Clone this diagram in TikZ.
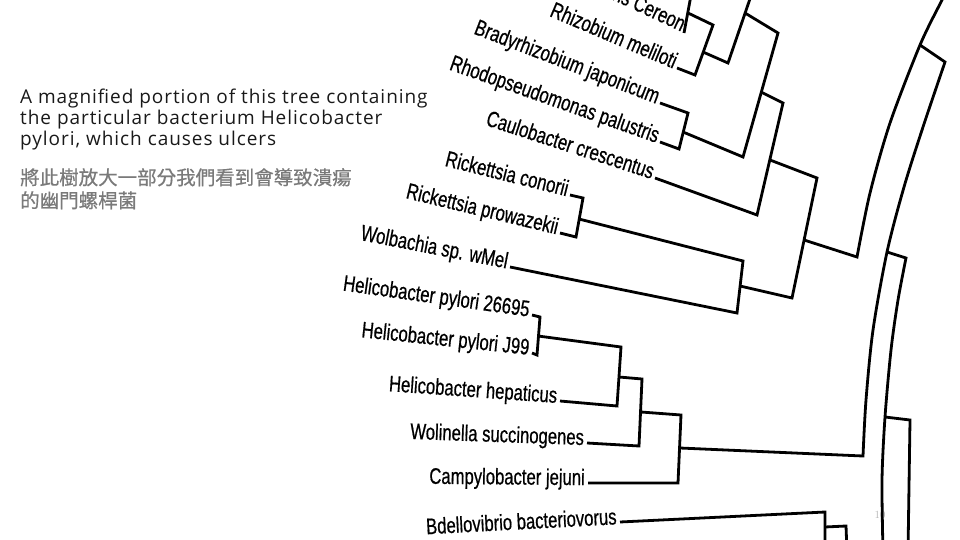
\documentclass[tikz,border=0pt]{standalone}
\usepackage{fontspec}
\newfontfamily\taxonfont[FakeStretch=0.74, FakeBold=0.6]{Liberation Sans}
\newfontfamily\notefont[LetterSpace=5.0]{Open Sans}
\newfontfamily\cjkfont[FakeBold=0.6]{Noto Sans CJK TC}
\definecolor{notegray}{HTML}{7A7A7A}

\begin{document}
\begin{tikzpicture}[x=1pt, y=-1pt,
        taxon/.style={font=\taxonfont\fontsize{22.5}{22.5}\selectfont, anchor=mid east, inner xsep=3pt, inner ysep=0pt},
        branch/.style={line width=2.8pt, line join=miter}]
    \useasboundingbox (0,0) rectangle (960,540);
    \clip (0,0) rectangle (960,540);

    % caption
    \node[anchor=north west, inner sep=0pt, align=left, font=\notefont\fontsize{19}{21}\selectfont, text=black!90] (Caption) at (20,89)
        {A magnified portion of this tree containing\\the particular bacterium Helicobacter\\pylori, which causes ulcers};
    \node[anchor=north west, inner sep=0pt, align=left, font=\cjkfont\fontsize{19.5}{23}\selectfont, text=notegray] (CaptionZh) at (20,168)
        {將此樹放大一部分我們看到會導致潰瘍\\的幽門螺桿菌};

    % taxa
    \node[taxon, anchor=base east, rotate=-25] (Cereon) at (684,33) {Agrobacterium tumefaciens Cereon};
    \node[taxon, rotate=-23] (Meliloti) at (677,68) {Rhizobium meliloti};
    \node[taxon, rotate=-21] (Japonicum) at (660,103) {Bradyrhizobium japonicum};
    \node[taxon, rotate=-19.5] (Palustris) at (660,142) {Rhodopseudomonas palustris};
    \node[taxon, rotate=-18] (Crescentus) at (655,178) {Caulobacter crescentus};
    \node[taxon, rotate=-14] (Conorii) at (570,195) {Rickettsia conorii};
    \node[taxon, rotate=-13.5] (Prowazekii) at (560,233) {Rickettsia prowazekii};
    \node[taxon, rotate=-11] (Wolbachia) at (510,267) {Wolbachia sp. wMel};
    \node[taxon, rotate=-8] (PyloriA) at (532,315) {Helicobacter pylori 26695};
    \node[taxon, rotate=-6] (PyloriB) at (532,353) {Helicobacter pylori J99};
    \node[taxon, rotate=-4] (Hepaticus) at (560,401) {Helicobacter hepaticus};
    \node[taxon, rotate=-2] (Wolinella) at (587,443) {Wolinella succinogenes};
    \node[taxon, rotate=-0.5] (Campylobacter) at (588,483) {Campylobacter jejuni};
    \node[taxon, rotate=3] (Bdellovibrio) at (620,522) {Bdellovibrio bacteriovorus};

    \node[font=\fontsize{11}{11}\selectfont, text=gray!60] (PageNo) at (880,515) {10};

    % alpha part
    \coordinate (CereonTop) at (692,-10);
    \coordinate (CereonNode) at (688,13);
    \coordinate (CereonCorner) at (713,25);
    \coordinate (MelilotiCorner) at (695,75);
    \coordinate (RhizoNode) at (703,52);
    \coordinate (RhizoCorner) at (728,63);
    \coordinate (UpperTop) at (753,-10);
    \coordinate (UpperNode) at (745,13);
    \coordinate (UpperCorner) at (778,33);
    \coordinate (JaponicumCorner) at (688,113);
    \coordinate (PalustrisCorner) at (679,149);
    \coordinate (BradyNode) at (683,132);
    \coordinate (BradyCorner) at (743,157);
    \coordinate (MidNode) at (761,92);
    \coordinate (MidCorner) at (783,103);
    \coordinate (CrescentusCorner) at (757,215);
    \coordinate (CauloNode) at (770,160);
    \coordinate (CauloCorner) at (817,178);
    \coordinate (ConoriiCorner) at (583,198);
    \coordinate (ProwazekiiCorner) at (576,237);
    \coordinate (RickNode) at (579,219);
    \coordinate (RickCorner) at (743,261);
    \coordinate (WolbachiaCorner) at (737,313);
    \coordinate (WolbNode) at (740,286);
    \coordinate (WolbCorner) at (792,298);
    \coordinate (AlphaNode) at (804,240);
    \coordinate (AlphaCorner) at (857,257);

    \draw[branch] (Cereon.base east) -- (CereonTop);
    \draw[branch] (CereonNode) -- (CereonCorner) -- (MelilotiCorner) -- (Meliloti.mid east);
    \draw[branch] (RhizoNode) -- (RhizoCorner) -- (UpperTop);
    \draw[branch] (Japonicum.mid east) -- (JaponicumCorner) -- (PalustrisCorner) -- (Palustris.mid east);
    \draw[branch] (UpperNode) -- (UpperCorner) -- (BradyCorner) -- (BradyNode);
    \draw[branch] (MidNode) -- (MidCorner) -- (CrescentusCorner) -- (Crescentus.mid east);
    \draw[branch] (Conorii.mid east) -- (ConoriiCorner) -- (ProwazekiiCorner) -- (Prowazekii.mid east);
    \draw[branch] (RickNode) -- (RickCorner) -- (WolbachiaCorner) -- (Wolbachia.mid east);
    \draw[branch] (CauloNode) -- (CauloCorner) -- (WolbCorner) -- (WolbNode);

    % epsilon part
    \coordinate (PyloriACorner) at (540,317);
    \coordinate (PyloriBCorner) at (537,355);
    \coordinate (PyloriNode) at (538,336);
    \coordinate (PyloriCorner) at (621,347);
    \coordinate (HepaticusCorner) at (617,406);
    \coordinate (HelicoNode) at (619,377);
    \coordinate (HelicoCorner) at (642,379);
    \coordinate (WolinellaCorner) at (639,446);
    \coordinate (WoliNode) at (641,412);
    \coordinate (WoliCorner) at (681,415);
    \coordinate (CampyCorner) at (678,483);
    \coordinate (EpsilonNode) at (680,448);
    \coordinate (EpsilonCorner) at (863,456);

    \draw[branch] (PyloriA.mid east) -- (PyloriACorner) -- (PyloriBCorner) -- (PyloriB.mid east);
    \draw[branch] (PyloriNode) -- (PyloriCorner) -- (HepaticusCorner) -- (Hepaticus.mid east);
    \draw[branch] (HelicoNode) -- (HelicoCorner) -- (WolinellaCorner) -- (Wolinella.mid east);
    \draw[branch] (WoliNode) -- (WoliCorner) -- (CampyCorner) -- (Campylobacter.mid east);

    % Bdellovibrio
    \coordinate (BdelloCorner) at (825,512);
    \coordinate (BdelloBottom) at (825,552);
    \coordinate (BdelloNode) at (825,527);
    \coordinate (DeltaCorner) at (846,526);
    \coordinate (DeltaBottom) at (847,552);
    \draw[branch] (Bdellovibrio.mid east) -- (BdelloCorner) -- (BdelloBottom);
    \draw[branch] (BdelloNode) -- (DeltaCorner) -- (DeltaBottom);

    % long arcs
    \coordinate (ArcANode) at (920,45);
    \coordinate (ArcATop) at (948,-12);
    \coordinate (ArcBTop) at (945,62);
    \coordinate (ArcBNode) at (887,252);
    \coordinate (ArcCTop) at (906,258);
    \coordinate (ArcCNode) at (885,417);
    \coordinate (ArcCBottom) at (883,552);
    \coordinate (ArcDTop) at (910,420);
    \coordinate (ArcDBottom) at (908,552);

    \draw[branch] (AlphaNode) -- plot[smooth] coordinates {(AlphaCorner) (870,193) (890,123) (ArcANode) (942,0) (ArcATop)};
    \draw[branch] (ArcANode) -- plot[smooth] coordinates {(ArcBTop) (923,127) (904,187) (ArcBNode) (873,330) (866,400) (EpsilonCorner)} -- (EpsilonNode);
    \draw[branch] (ArcBNode) -- plot[smooth] coordinates {(ArcCTop) (898,300) (891,350) (ArcCNode) (882,480) (ArcCBottom)};
    \draw[branch] (ArcCNode) -- (ArcDTop) -- (ArcDBottom);
\end{tikzpicture}
\end{document}
